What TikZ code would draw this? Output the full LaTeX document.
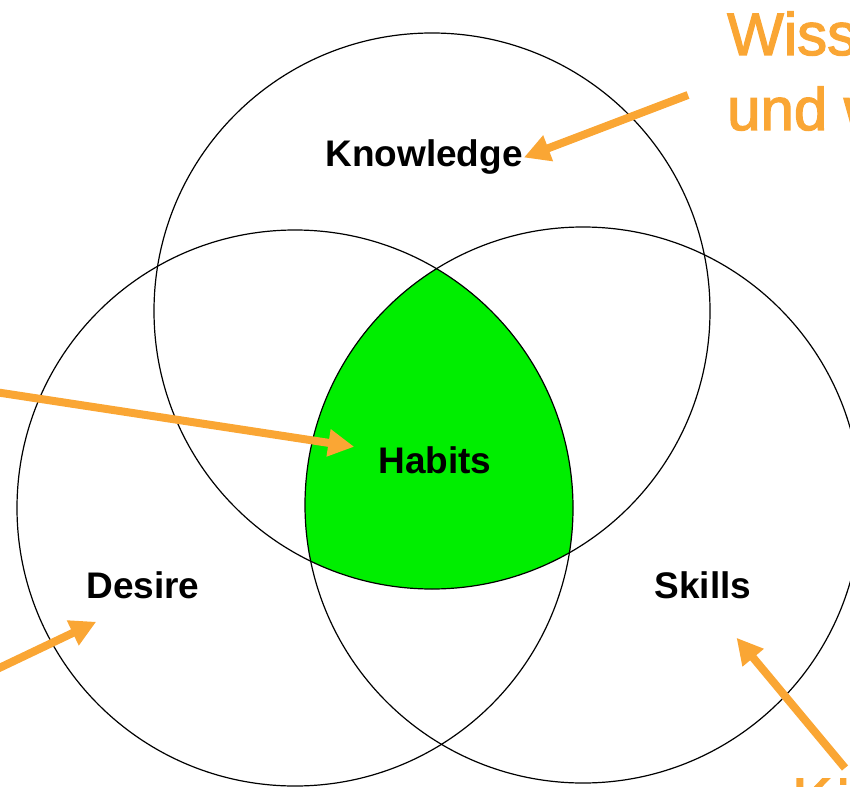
\documentclass[tikz,border=0pt]{standalone}
\usepackage{fontspec}
\setmainfont{Liberation Sans}
\newfontfamily\notefont[FakeBold=2.2]{Liberation Sans}
\usetikzlibrary{arrows.meta}
\definecolor{Orange}{HTML}{FAA634}
\definecolor{Leaf}{HTML}{00EE00}

\begin{document}
\begin{tikzpicture}[x=1pt,y=-1pt,
  ring/.style={circle,draw,line width=1.2pt,minimum size=556pt,inner sep=0pt},
  tag/.style={font=\fontsize{37}{40}\selectfont\bfseries,anchor=base,inner sep=1pt},
  note/.style={Orange,font=\notefont\fontsize{60}{75}\selectfont,anchor=base west,inner sep=0pt},
  pointer/.style={Orange,line width=8pt,-{Triangle[length=26pt,width=26pt]}}]
  \useasboundingbox (0,0) rectangle (850,786);
  \clip (0,0) rectangle (850,786);
  % area shared by all three rings
  \begin{scope}
    \clip (432,311) circle[radius=278];
    \clip (295,508) circle[radius=278];
    \fill[Leaf] (583,505) circle[radius=278];
  \end{scope}
  \node[ring] (know) at (432,311) {};
  \node[ring] (want) at (295,508) {};
  \node[ring] (can) at (583,505) {};
  % labels
  \node[tag] (knw) at (424,167) {Knowledge};
  \node[tag] (hab) at (435,473) {Habits};
  \node[tag] (des) at (143,598) {Desire};
  \node[tag] (skl) at (703,598) {Skills};
  % notes
  \node[note] (wis) at (727,55) {Wissen, was};
  \node[note] (wie) at (727,130) {und warum};
  \node[note] (kon) at (792,820) {Können};
  \coordinate (wt) at (688,95);
  \coordinate (hs) at (-5,392);
  \coordinate (ds) at (-5,670);
  \coordinate (ks) at (845,768);
  \draw[pointer] (wt) -- (knw.east);
  \draw[pointer] (hs) -- ([shift={(-23,-13)}]hab.west);
  \draw[pointer] (ds) -- ([shift={(11,37)}]des.west);
  \draw[pointer] (ks) -- ([shift={(-16,53)}]skl.east);
\end{tikzpicture}
\end{document}
